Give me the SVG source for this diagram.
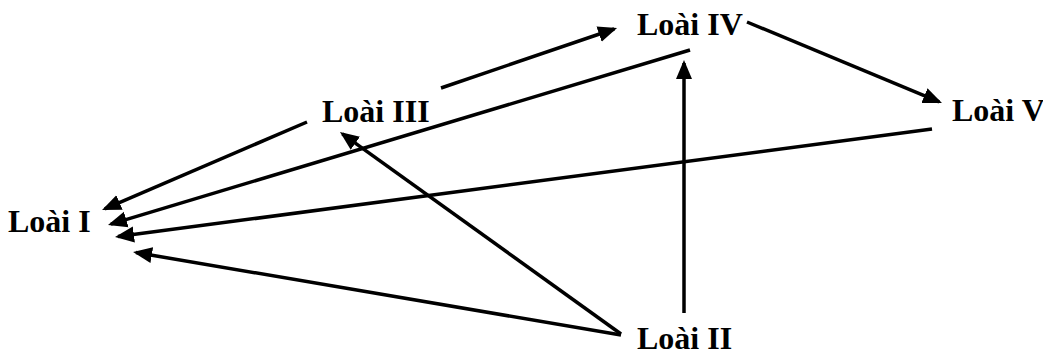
<svg xmlns="http://www.w3.org/2000/svg" width="1043" height="356" viewBox="0 0 1043 356">
<style>
.lbl{font-family:"Liberation Serif","Times New Roman",serif;font-weight:bold;font-size:32px;fill:#000}
.edge{stroke:#000;stroke-width:3.5;fill:none;marker-end:url(#ah)}
</style>
<defs>
<marker id="ah" markerUnits="userSpaceOnUse" markerWidth="22" markerHeight="18" viewBox="0 -9 22 18" refX="16" refY="0" orient="auto">
<path d="M19,0 L0,-8 L0,8 z" fill="#000"/>
</marker>
</defs>
<rect width="1043" height="356" fill="#fff"/>
<g id="connectors">
<line class="edge" x1="307" y1="122" x2="104.8" y2="208.8"/>
<line class="edge" x1="690" y1="50" x2="110.9" y2="224.1"/>
<line class="edge" x1="932" y1="129" x2="118" y2="236.6"/>
<line class="edge" x1="621" y1="335" x2="136" y2="252.5"/>
<line class="edge" x1="621" y1="334" x2="342.4" y2="133.8"/>
<line class="edge" x1="684" y1="313" x2="684" y2="63"/>
<line class="edge" x1="441" y1="88" x2="614.2" y2="29"/>
<line class="edge" x1="747" y1="22" x2="939.2" y2="101.8"/>
</g>
<g id="loai-I"><text class="lbl" x="8" y="232">Loài I</text></g>
<g id="loai-II"><text class="lbl" x="637" y="349">Loài II</text></g>
<g id="loai-III"><text class="lbl" x="322" y="122">Loài III</text></g>
<g id="loai-IV"><text class="lbl" x="637" y="35">Loài IV</text></g>
<g id="loai-V"><text class="lbl" x="952" y="121">Loài V</text></g>
</svg>
